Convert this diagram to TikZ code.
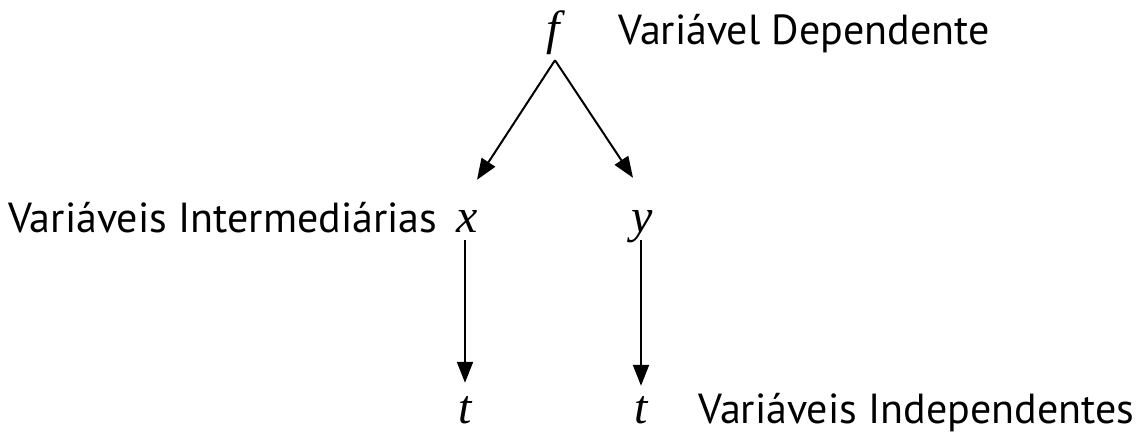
\documentclass[tikz,border=0pt]{standalone}
\usepackage{fontspec}
\setmainfont{PT Sans}
\newfontfamily\varfont{Liberation Serif}
\usetikzlibrary{arrows.meta}
\begin{document}
\begin{tikzpicture}[x=1pt,y=-1pt,
  lbl/.style={anchor=base west,inner sep=0pt,font=\fontsize{42}{48}\selectfont},
  mv/.style={anchor=base,inner sep=0pt,text height=34pt,text depth=12pt,font=\fontsize{48}{54}\selectfont\varfont\itshape},
  arr/.style={line width=2pt,-{Triangle[length=21pt,width=16pt]}}]
\useasboundingbox (0,0) rectangle (1137,441);
\node[mv] (f) at (553,45) {f};
\node[mv] (x) at (467,232) {x};
\node[mv] (y) at (642,232) {y};
\node[mv] (t1) at (465,423) {t};
\node[mv] (t2) at (641,423) {t};
\node[lbl] (ld) at (618,45) {Variável Dependente};
\node[lbl] (li) at (8,232) {Variáveis Intermediárias};
\node[lbl] (lp) at (698,423) {Variáveis Independentes};
\draw[arr] ([xshift=2pt,yshift=-3pt]f.south) -- ([xshift=10pt,yshift=18pt]x.north);
\draw[arr] ([xshift=2pt,yshift=-3pt]f.south) -- ([xshift=-9pt,yshift=20pt]y.north);
\draw[arr] ([xshift=-2pt,yshift=4pt]x.south) -- ([yshift=6pt]t1.north);
\draw[arr] ([xshift=-1pt,yshift=4pt]y.south) -- ([yshift=3pt]t2.north);
\end{tikzpicture}
\end{document}
